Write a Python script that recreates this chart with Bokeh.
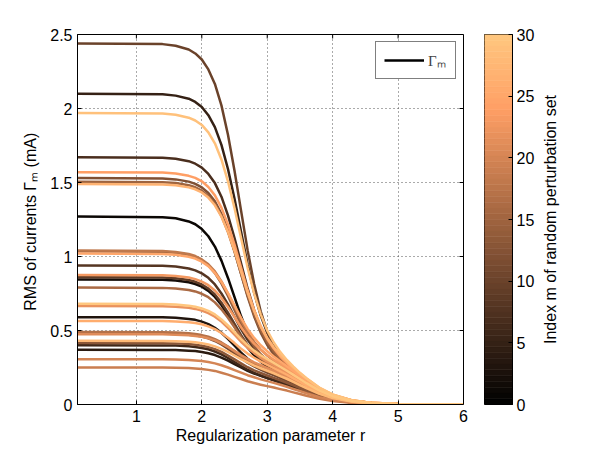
import numpy as np
from bokeh.plotting import figure
from bokeh.models import Range1d, FixedTicker, Legend, LegendItem
from bokeh.layouts import row
from bokeh.embed import file_html
from bokeh.resources import INLINE

# ---------------- data ----------------
R_GRID = [0.1, 1.4, 1.6, 1.8, 1.9, 2.0, 2.1, 2.2, 2.3, 2.4, 2.5, 2.6, 2.7, 2.8, 2.9, 3.0,
          3.1, 3.2, 3.3, 3.4, 3.5, 3.6, 3.8, 4.0, 4.3, 4.6, 5.0, 6.0]

m01 = [1.27, 1.266, 1.259, 1.237, 1.218, 1.185, 1.137, 1.067, 0.972, 0.855, 0.726, 0.596, 0.484, 0.394, 0.327, 0.277, 0.238, 0.207, 0.179, 0.154, 0.131, 0.108, 0.070, 0.042, 0.018, 0.007, 0.002, 0.0]
m02 = [0.845, 0.843, 0.838, 0.826, 0.814, 0.796, 0.768, 0.727, 0.672, 0.604, 0.528, 0.452, 0.386, 0.332, 0.289, 0.256, 0.228, 0.203, 0.180, 0.156, 0.134, 0.111, 0.073, 0.043, 0.018, 0.007, 0.002, 0.0]
m03 = [0.59, 0.589, 0.586, 0.578, 0.572, 0.560, 0.543, 0.518, 0.485, 0.443, 0.397, 0.351, 0.309, 0.275, 0.247, 0.223, 0.202, 0.183, 0.162, 0.142, 0.122, 0.102, 0.066, 0.040, 0.017, 0.007, 0.002, 0.0]
m04 = [0.37, 0.369, 0.368, 0.364, 0.361, 0.354, 0.346, 0.334, 0.317, 0.296, 0.273, 0.250, 0.228, 0.209, 0.193, 0.178, 0.164, 0.149, 0.134, 0.118, 0.101, 0.085, 0.055, 0.033, 0.014, 0.006, 0.002, 0.0]
m05 = [2.10, 2.096, 2.087, 2.066, 2.044, 2.010, 1.955, 1.874, 1.754, 1.591, 1.390, 1.168, 0.946, 0.756, 0.602, 0.484, 0.399, 0.332, 0.280, 0.235, 0.196, 0.161, 0.102, 0.062, 0.025, 0.010, 0.003, 0.0]
m06 = [0.40, 0.399, 0.398, 0.393, 0.389, 0.382, 0.373, 0.358, 0.339, 0.314, 0.287, 0.260, 0.235, 0.214, 0.196, 0.180, 0.165, 0.150, 0.134, 0.118, 0.101, 0.085, 0.055, 0.033, 0.014, 0.006, 0.002, 0.0]
m07 = [1.67, 1.667, 1.660, 1.644, 1.627, 1.601, 1.558, 1.496, 1.404, 1.278, 1.125, 0.954, 0.784, 0.637, 0.516, 0.425, 0.356, 0.301, 0.256, 0.217, 0.182, 0.151, 0.097, 0.057, 0.024, 0.010, 0.003, 0.0]
m08 = [0.94, 0.937, 0.932, 0.919, 0.906, 0.886, 0.856, 0.811, 0.750, 0.676, 0.593, 0.509, 0.437, 0.378, 0.330, 0.293, 0.261, 0.233, 0.207, 0.180, 0.154, 0.128, 0.084, 0.050, 0.021, 0.008, 0.002, 0.0]
m09 = [0.86, 0.858, 0.853, 0.841, 0.829, 0.811, 0.783, 0.743, 0.688, 0.620, 0.545, 0.469, 0.403, 0.349, 0.306, 0.273, 0.244, 0.218, 0.193, 0.167, 0.143, 0.120, 0.078, 0.046, 0.020, 0.008, 0.002, 0.0]
m10 = [2.44, 2.435, 2.424, 2.399, 2.372, 2.331, 2.264, 2.166, 2.021, 1.823, 1.580, 1.310, 1.043, 0.814, 0.630, 0.492, 0.393, 0.319, 0.263, 0.218, 0.179, 0.147, 0.092, 0.055, 0.022, 0.009, 0.003, 0.0]
m11 = [0.48, 0.479, 0.477, 0.472, 0.467, 0.459, 0.447, 0.429, 0.406, 0.377, 0.345, 0.312, 0.282, 0.257, 0.235, 0.216, 0.198, 0.180, 0.161, 0.141, 0.121, 0.102, 0.066, 0.040, 0.017, 0.007, 0.002, 0.0]
m12 = [1.53, 1.527, 1.521, 1.506, 1.491, 1.467, 1.429, 1.373, 1.289, 1.177, 1.037, 0.883, 0.729, 0.595, 0.486, 0.402, 0.339, 0.288, 0.246, 0.209, 0.176, 0.146, 0.093, 0.056, 0.023, 0.009, 0.003, 0.0]
m13 = [0.415, 0.414, 0.413, 0.408, 0.404, 0.397, 0.388, 0.374, 0.355, 0.331, 0.305, 0.278, 0.252, 0.231, 0.213, 0.196, 0.180, 0.164, 0.147, 0.130, 0.111, 0.093, 0.061, 0.037, 0.015, 0.006, 0.002, 0.0]
m14 = [1.035, 1.032, 1.026, 1.011, 0.996, 0.973, 0.939, 0.888, 0.818, 0.733, 0.638, 0.543, 0.461, 0.393, 0.340, 0.299, 0.265, 0.235, 0.208, 0.181, 0.154, 0.128, 0.084, 0.050, 0.021, 0.008, 0.002, 0.0]
m15 = [1.505, 1.502, 1.496, 1.482, 1.468, 1.445, 1.408, 1.355, 1.275, 1.166, 1.033, 0.885, 0.737, 0.609, 0.504, 0.421, 0.359, 0.308, 0.265, 0.226, 0.190, 0.158, 0.101, 0.061, 0.025, 0.010, 0.003, 0.0]
m16 = [0.79, 0.788, 0.784, 0.774, 0.764, 0.748, 0.725, 0.690, 0.643, 0.586, 0.522, 0.456, 0.400, 0.353, 0.314, 0.283, 0.255, 0.229, 0.204, 0.178, 0.153, 0.127, 0.083, 0.050, 0.021, 0.008, 0.002, 0.0]
m17 = [0.49, 0.489, 0.486, 0.482, 0.477, 0.469, 0.458, 0.441, 0.419, 0.391, 0.359, 0.327, 0.299, 0.273, 0.251, 0.232, 0.213, 0.194, 0.174, 0.153, 0.131, 0.110, 0.072, 0.043, 0.018, 0.007, 0.002, 0.0]
m18 = [1.04, 1.037, 1.031, 1.017, 1.003, 0.980, 0.947, 0.899, 0.832, 0.750, 0.660, 0.568, 0.489, 0.424, 0.371, 0.331, 0.296, 0.264, 0.234, 0.203, 0.174, 0.145, 0.095, 0.056, 0.024, 0.010, 0.003, 0.0]
m19 = [0.25, 0.250, 0.249, 0.246, 0.244, 0.240, 0.234, 0.227, 0.215, 0.202, 0.187, 0.172, 0.157, 0.145, 0.134, 0.124, 0.115, 0.104, 0.094, 0.082, 0.071, 0.059, 0.039, 0.023, 0.010, 0.004, 0.001, 0.0]
m20 = [0.305, 0.305, 0.304, 0.300, 0.298, 0.294, 0.287, 0.278, 0.265, 0.250, 0.232, 0.215, 0.198, 0.184, 0.170, 0.158, 0.146, 0.133, 0.120, 0.105, 0.091, 0.076, 0.050, 0.030, 0.013, 0.005, 0.001, 0.0]
m21 = [0.475, 0.474, 0.472, 0.468, 0.463, 0.457, 0.447, 0.433, 0.413, 0.389, 0.362, 0.334, 0.308, 0.285, 0.266, 0.247, 0.228, 0.208, 0.187, 0.164, 0.141, 0.119, 0.077, 0.046, 0.020, 0.008, 0.002, 0.0]
m22 = [0.665, 0.664, 0.660, 0.653, 0.646, 0.634, 0.617, 0.593, 0.560, 0.518, 0.472, 0.424, 0.382, 0.347, 0.317, 0.290, 0.265, 0.241, 0.215, 0.189, 0.162, 0.135, 0.088, 0.053, 0.022, 0.009, 0.003, 0.0]
m23 = [0.875, 0.873, 0.868, 0.858, 0.847, 0.830, 0.806, 0.770, 0.720, 0.659, 0.591, 0.522, 0.461, 0.411, 0.370, 0.335, 0.303, 0.274, 0.244, 0.214, 0.183, 0.153, 0.100, 0.060, 0.025, 0.010, 0.003, 0.0]
m24 = [1.57, 1.567, 1.561, 1.545, 1.531, 1.508, 1.470, 1.413, 1.330, 1.217, 1.080, 0.925, 0.772, 0.638, 0.528, 0.443, 0.378, 0.324, 0.279, 0.238, 0.201, 0.167, 0.107, 0.064, 0.027, 0.011, 0.003, 0.0]
m25 = [1.02, 1.017, 1.012, 0.998, 0.986, 0.965, 0.935, 0.889, 0.828, 0.753, 0.670, 0.585, 0.511, 0.450, 0.400, 0.360, 0.324, 0.291, 0.259, 0.226, 0.194, 0.162, 0.106, 0.063, 0.027, 0.011, 0.003, 0.0]
m26 = [0.565, 0.564, 0.561, 0.556, 0.550, 0.542, 0.528, 0.509, 0.483, 0.451, 0.415, 0.377, 0.344, 0.316, 0.290, 0.268, 0.246, 0.224, 0.201, 0.176, 0.152, 0.127, 0.083, 0.050, 0.021, 0.008, 0.002, 0.0]
m27 = [1.49, 1.487, 1.481, 1.467, 1.454, 1.433, 1.398, 1.346, 1.269, 1.166, 1.039, 0.897, 0.756, 0.631, 0.530, 0.450, 0.387, 0.335, 0.289, 0.248, 0.210, 0.175, 0.112, 0.067, 0.028, 0.011, 0.003, 0.0]
m28 = [0.43, 0.429, 0.427, 0.424, 0.420, 0.414, 0.405, 0.393, 0.376, 0.355, 0.331, 0.306, 0.284, 0.263, 0.245, 0.228, 0.211, 0.192, 0.174, 0.153, 0.131, 0.110, 0.072, 0.043, 0.018, 0.007, 0.002, 0.0]
m29 = [1.97, 1.966, 1.958, 1.938, 1.919, 1.889, 1.839, 1.765, 1.656, 1.508, 1.327, 1.125, 0.925, 0.750, 0.609, 0.500, 0.419, 0.354, 0.301, 0.256, 0.214, 0.177, 0.113, 0.068, 0.028, 0.011, 0.003, 0.0]
m30 = [0.68, 0.679, 0.675, 0.668, 0.661, 0.649, 0.633, 0.609, 0.575, 0.534, 0.489, 0.442, 0.400, 0.364, 0.333, 0.307, 0.281, 0.255, 0.228, 0.200, 0.172, 0.144, 0.094, 0.056, 0.024, 0.010, 0.003, 0.0]

SERIES = [m01, m02, m03, m04, m05, m06, m07, m08, m09, m10,
          m11, m12, m13, m14, m15, m16, m17, m18, m19, m20,
          m21, m22, m23, m24, m25, m26, m27, m28, m29, m30]
M_INDEX = list(range(1, 31))
M_MAX = 30

X_MIN, X_MAX = 0.1, 6.0
Y_MIN, Y_MAX = 0.0, 2.5
X_TICKS = [1, 2, 3, 4, 5, 6]
X_TICK_LABELS = ["1", "2", "3", "4", "5", "6"]
Y_TICKS = [0, 0.5, 1, 1.5, 2, 2.5]
Y_TICK_LABELS = ["0", "0.5", "1", "1.5", "2", "2.5"]
CB_TICKS = [0, 5, 10, 15, 20, 25, 30]
CB_TICK_LABELS = ["0", "5", "10", "15", "20", "25", "30"]

X_LABEL = "Regularization parameter r"
Y_LABEL = "RMS of currents  Γ\u2098 (mA)"
CB_LABEL = "Index m of random perturbation set"
LEGEND_LABEL = "Γ\u2098"

# ---------------- helpers ----------------
FONT = "Liberation Sans"
SERIF = "Liberation Serif"
FRAME_W, FRAME_H = 386, 370
TICK_PX = 4
BORDER_TOP, BORDER_BOTTOM = 34, 48
FIG_H = BORDER_TOP + FRAME_H + BORDER_BOTTOM


def copper(t):
    r = min(1.0, 1.25 * t)
    g = 0.7812 * t
    b = 0.4975 * t
    return "#%02x%02x%02x" % (int(round(255 * r)), int(round(255 * g)), int(round(255 * b)))


def style_axis(ax, standoff):
    ax.major_label_text_font = FONT
    ax.major_label_text_font_size = "16px"
    ax.major_label_text_color = "black"
    ax.major_tick_in = TICK_PX
    ax.major_tick_out = 0
    ax.major_tick_line_color = "black"
    ax.minor_tick_line_color = None
    ax.axis_line_color = "black"
    ax.major_label_standoff = standoff
    ax.axis_label_text_font = FONT
    ax.axis_label_text_font_size = "16px"
    ax.axis_label_text_font_style = "normal"
    ax.axis_label_text_color = "black"


# ---------------- main figure ----------------
p = figure(width=478, height=FIG_H, x_range=Range1d(X_MIN, X_MAX), y_range=Range1d(Y_MIN, Y_MAX),
           output_backend="svg", toolbar_location=None,
           min_border_left=77, min_border_right=15,
           min_border_top=BORDER_TOP, min_border_bottom=BORDER_BOTTOM)
p.background_fill_color = "white"
p.border_fill_color = "white"
p.outline_line_color = "black"
p.outline_line_width = 1

p.xaxis.ticker = FixedTicker(ticks=X_TICKS)
p.xaxis.major_label_overrides = dict(zip(X_TICKS, X_TICK_LABELS))
p.yaxis.ticker = FixedTicker(ticks=Y_TICKS)
p.yaxis.major_label_overrides = dict(zip(Y_TICKS, Y_TICK_LABELS))
style_axis(p.xaxis[0], 5)
style_axis(p.yaxis[0], 5)
p.xaxis.axis_label = X_LABEL
p.xaxis.axis_label_standoff = 2
p.yaxis.axis_label = Y_LABEL
p.yaxis.axis_label_standoff = 8

p.xgrid.ticker = FixedTicker(ticks=X_TICKS)
p.ygrid.ticker = FixedTicker(ticks=Y_TICKS)
p.grid.grid_line_color = "#555555"
p.grid.grid_line_dash = "1 3"
p.grid.grid_line_width = 1

# mirrored (inward) ticks on the top and right edges of the box
dy_tick = TICK_PX * (Y_MAX - Y_MIN) / FRAME_H
dx_tick = TICK_PX * (X_MAX - X_MIN) / FRAME_W
p.segment(x0=X_TICKS, y0=[Y_MAX] * len(X_TICKS), x1=X_TICKS, y1=[Y_MAX - dy_tick] * len(X_TICKS),
          line_color="black", line_width=1)
p.segment(x0=[X_MAX] * len(Y_TICKS), y0=Y_TICKS, x1=[X_MAX - dx_tick] * len(Y_TICKS), y1=Y_TICKS,
          line_color="black", line_width=1)

order = sorted(range(len(SERIES)), key=lambda i: M_INDEX[i])
for i in order:
    p.line(R_GRID, SERIES[i], line_color=copper(M_INDEX[i] / M_MAX), line_width=2.5,
           line_join="round", line_cap="round")

dummy = p.line(x=[np.nan], y=[np.nan], line_color="black", line_width=2.5)
legend = Legend(items=[LegendItem(label=LEGEND_LABEL, renderers=[dummy])], location="top_right",
                margin=7, padding=8, glyph_width=40, glyph_height=18, label_height=18,
                label_width=19, label_standoff=4, spacing=0,
                label_text_font=SERIF, label_text_font_size="15px",
                border_line_color="black", border_line_width=1,
                background_fill_color="white", background_fill_alpha=1)
p.add_layout(legend)

# ---------------- colour bar figure ----------------
cb = figure(width=59, height=FIG_H, x_range=Range1d(0, 1), y_range=Range1d(0, M_MAX),
            output_backend="svg", toolbar_location=None, x_axis_location=None,
            y_axis_location="right",
            min_border_left=6, min_border_right=24,
            min_border_top=BORDER_TOP, min_border_bottom=BORDER_BOTTOM)
cb.background_fill_color = "white"
cb.border_fill_color = "white"
cb.outline_line_color = "black"
cb.outline_line_width = 1
cb.grid.visible = False

levels = 64
edges = np.linspace(0, M_MAX, levels + 1)
cols = [copper((k + 0.5) / levels) for k in range(levels)]
cb.quad(left=0, right=1, bottom=edges[:-1], top=edges[1:], fill_color=cols, line_color=cols,
        line_width=0.6)

cax = cb.yaxis[0]
cax.ticker = FixedTicker(ticks=CB_TICKS)
cax.major_label_overrides = dict(zip(CB_TICKS, CB_TICK_LABELS))
style_axis(cax, 4)

# ---------------- colour bar title (a left axis label, reads bottom-to-top) ----------------
lab = figure(width=54, height=FIG_H, x_range=Range1d(0, 1), y_range=Range1d(0, 1),
             output_backend="svg", toolbar_location=None, x_axis_location=None,
             y_axis_location="left",
             min_border_left=21, min_border_right=0,
             min_border_top=BORDER_TOP, min_border_bottom=BORDER_BOTTOM)
lab.background_fill_color = "white"
lab.border_fill_color = "white"
lab.outline_line_color = None
lab.grid.visible = False
lax = lab.yaxis[0]
lax.ticker = FixedTicker(ticks=[])
lax.axis_line_color = None
lax.major_tick_line_color = None
lax.minor_tick_line_color = None
lax.major_label_standoff = 0
lax.axis_label = CB_LABEL
lax.axis_label_standoff = 0
lax.axis_label_text_font = FONT
lax.axis_label_text_font_size = "16px"
lax.axis_label_text_font_style = "normal"
lax.axis_label_text_color = "black"

layout = row(p, cb, lab)
open("out.html", "w").write(file_html(layout, INLINE))
